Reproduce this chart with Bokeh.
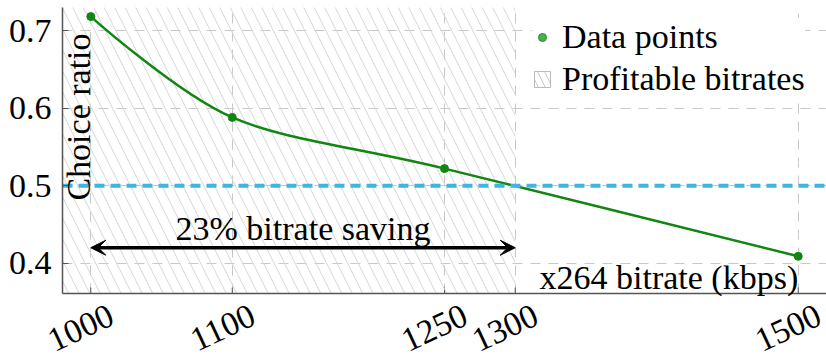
import math
from bokeh.plotting import figure
from bokeh.models import (Range1d, FixedTicker, Arrow, VeeHead, Label,
                          Legend, LegendItem, LinearAxis)
from bokeh.embed import file_html
from bokeh.resources import INLINE

# ---- data ----
bitrate = [1000, 1100, 1250, 1500]
choice_ratio = [0.718, 0.588, 0.522, 0.409]
x_ticks = [1000, 1100, 1250, 1300, 1500]
x_tick_labels = ["1000", "1100", "1250", "1300", "1500"]
y_ticks = [0.4, 0.5, 0.6, 0.7]
y_tick_labels = ["0.4", "0.5", "0.6", "0.7"]
threshold = 0.5
profitable_max = 1300
saving_start, saving_end = 1000, 1300
saving_text = "23% bitrate saving"
x_label = "x264 bitrate (kbps)"
y_label = "Choice ratio"
# axis extents (where the axis lines sit)
x_lo, x_hi = 980, 1520
y_lo, y_hi = 0.361, 0.7297

FONT = "Liberation Serif"
FS = "34px"
GREEN = "#118611"
AXIS_GRAY = "#555555"
NAN = float("nan")

W, H = 826, 355
AX_LEFT, AX_TOP, AX_BOTTOM = 62, 7, 293   # pixel position of the axes box
kx = (W - AX_LEFT) / (x_hi - x_lo)
ky = (AX_BOTTOM - AX_TOP) / (y_hi - y_lo)
view_x = (x_lo - AX_LEFT / kx, x_hi)
view_y = (y_lo - (H - AX_BOTTOM) / ky, y_hi + AX_TOP / ky)

p = figure(frame_width=W, frame_height=H, output_backend="svg",
           toolbar_location=None,
           x_range=Range1d(*view_x), y_range=Range1d(*view_y),
           min_border=0)
p.outline_line_color = None
p.background_fill_color = "white"

# y axis drawn at a fixed position inside the canvas
p.yaxis.fixed_location = x_lo
p.yaxis.bounds = (y_lo, y_hi)
p.yaxis.ticker = FixedTicker(ticks=y_ticks)
p.yaxis.major_label_overrides = {t: l for t, l in zip(y_ticks, y_tick_labels)}
p.yaxis.axis_line_color = AXIS_GRAY
p.yaxis.axis_line_width = 1.5
p.yaxis.major_tick_line_color = AXIS_GRAY
p.yaxis.major_tick_in = 6
p.yaxis.major_tick_out = 0
p.yaxis.minor_tick_line_color = None
p.yaxis.major_label_text_font = FONT
p.yaxis.major_label_text_font_size = FS
p.yaxis.major_label_text_color = "black"
p.yaxis.major_label_standoff = 11

# x axis: its ticker drives the vertical grid; the visible line and rotated
# labels come from a label axis whose anchors sit a little right of each tick
p.xaxis.ticker = FixedTicker(ticks=x_ticks)
p.xaxis.visible = False
dx = 20.8 / kx
p.extra_x_ranges = {"lbl": Range1d(view_x[0] - dx, view_x[1] - dx)}
lbl_axis = LinearAxis(x_range_name="lbl", fixed_location=y_lo,
                      bounds=(x_lo - dx, x_hi - dx),
                      ticker=FixedTicker(ticks=x_ticks),
                      major_label_overrides={t: l for t, l in zip(x_ticks, x_tick_labels)},
                      major_label_orientation=math.radians(25),
                      major_label_standoff=14,
                      major_label_text_font=FONT, major_label_text_font_size=FS,
                      major_label_text_color="black",
                      axis_line_color=AXIS_GRAY, axis_line_width=1.5,
                      major_tick_line_color=None, minor_tick_line_color=None)
p.add_layout(lbl_axis, "below")

for g in (p.xgrid, p.ygrid):
    g.grid_line_color = "#c8c8c8"
    g.grid_line_dash = "10 8"
    g.grid_line_width = 1
p.xgrid.cross_bounds = (y_lo, y_hi)
p.ygrid.cross_bounds = (x_lo, x_hi)

# inner tick marks on the x axis
p.segment(x0=x_ticks, x1=x_ticks, y0=[y_lo] * len(x_ticks),
          y1=[y_lo + 6 / ky] * len(x_ticks), line_color=AXIS_GRAY, line_width=1)

# hatched profitable region
p.quad(left=[x_lo], right=[profitable_max], bottom=[y_lo], top=[y_hi],
       fill_alpha=0, line_color=None, hatch_pattern="\\", hatch_color="#d6d6d6",
       hatch_scale=21, hatch_weight=1)

# smooth curve (pgf-style smooth, tension 0.55)
f = 0.2775 * 0.55
n = len(bitrate)
tx = [0.0] * n
ty = [0.0] * n
for i in range(1, n - 1):
    tx[i] = (bitrate[i + 1] - bitrate[i - 1]) * f
    ty[i] = (choice_ratio[i + 1] - choice_ratio[i - 1]) * f
p.bezier(x0=bitrate[:-1], y0=choice_ratio[:-1],
         x1=bitrate[1:], y1=choice_ratio[1:],
         cx0=[bitrate[i] + tx[i] for i in range(n - 1)],
         cy0=[choice_ratio[i] + ty[i] for i in range(n - 1)],
         cx1=[bitrate[i + 1] - tx[i + 1] for i in range(n - 1)],
         cy1=[choice_ratio[i + 1] - ty[i + 1] for i in range(n - 1)],
         line_color=GREEN, line_width=2.5)
p.scatter(bitrate, choice_ratio, size=8, fill_color=GREEN, line_color=GREEN)

# threshold line across the axes box
p.segment(x0=[x_lo], x1=[x_hi], y0=[threshold], y1=[threshold],
          line_color="#3db5e6", line_width=4, line_dash="10 6")

# arrow + text
head = dict(size=15, fill_color="black", line_color="black", line_width=1)
p.add_layout(Arrow(x_start=saving_start, y_start=0.42, x_end=saving_end, y_end=0.42,
                   start=VeeHead(**head), end=VeeHead(**head),
                   line_color="black", line_width=3.5))
p.add_layout(Label(x=(saving_start + saving_end) / 2, y=0.445, text=saving_text,
                   text_align="center", text_baseline="alphabetic",
                   text_font=FONT, text_font_size=FS, text_color="black"))

# axis titles inside the plot
p.add_layout(Label(x=1500, y=0.381, text=x_label, text_align="right",
                   text_baseline="alphabetic", text_font=FONT, text_font_size=FS,
                   text_color="black"))
p.add_layout(Label(x=991, y=0.5885, text=y_label, angle=math.pi / 2,
                   text_align="center", text_baseline="alphabetic",
                   text_font=FONT, text_font_size=FS, text_color="black"))

# legend (swatch-only renderers, nothing drawn in the plot)
leg_pts = p.scatter(x=[NAN], y=[NAN], size=7, fill_color="#4cae4c",
                    line_color="#2a8a2a")
leg_box = p.quad(left=[NAN], right=[NAN], bottom=[NAN], top=[NAN],
                 fill_color="white", line_color="#bbbbbb", line_width=1,
                 hatch_pattern="\\", hatch_color="#c8c8c8", hatch_scale=14,
                 hatch_weight=1)
legend = Legend(items=[LegendItem(label="Data points", renderers=[leg_pts]),
                       LegendItem(label="Profitable bitrates", renderers=[leg_box])],
                location=(470 + AX_LEFT, 195 + (H - AX_BOTTOM)),
                label_text_font=FONT, label_text_font_size=FS,
                label_text_color="black", glyph_width=20, glyph_height=20,
                label_standoff=10, label_height=38, spacing=4, padding=8, margin=0,
                border_line_color=None, background_fill_color="white",
                background_fill_alpha=1)
p.add_layout(legend)

open("out.html", "w").write(file_html(p, INLINE))
